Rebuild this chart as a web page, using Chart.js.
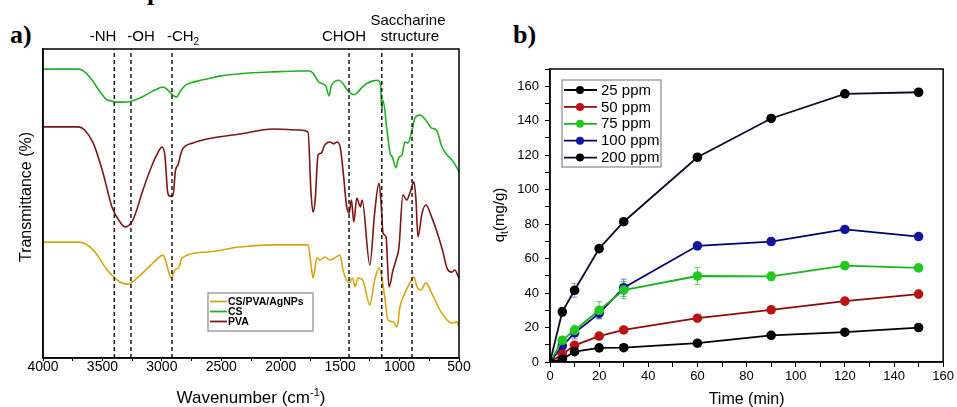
<!DOCTYPE html>
<html>
<head>
<meta charset="utf-8">
<script src="https://cdn.jsdelivr.net/npm/chart.js@4.4.0/dist/chart.umd.min.js"></script>
<style>
  body { margin: 0; background: #fff; width: 957px; height: 407px; overflow: hidden; position: relative; }
  .panel { position: absolute; top: 0; height: 407px; }
  #pa { left: 0; width: 478px; }
  #pb { left: 478px; width: 479px; }
  .tag { position: absolute; font: bold 26px "Liberation Serif", "Times New Roman", serif; line-height: 26px; color: #000; }
</style>
</head>
<body>
<div class="tag" style="left:147px; top:-21px;">p</div>
<div class="tag" style="left:10px; top:22px;">a)</div>
<div class="tag" style="left:513px; top:22px;">b)</div>
<div class="panel" id="pa"><canvas id="ftir" width="478" height="407"></canvas></div>
<div class="panel" id="pb"><canvas id="kinetica" width="479" height="407"></canvas></div>
<script>
const SANS = "'Liberation Sans', Arial, sans-serif";
Chart.defaults.font.family = SANS;
Chart.defaults.color = '#000';

// ---- panel a: FTIR spectra (transmittance, arbitrary offset units 0-100) ----
const wnCS = [4000,3700,3660,3600,3530,3460,3420,3400,3330,3250,3150,3060,2990,2950,2900,2873,2850,2800,2700,2620,2500,2340,2065,1840,1760,1728,1680,1620,1594,1575,1540,1510,1480,1440,1417,1380,1350,1320,1280,1230,1182,1160,1150,1140,1106,1080,1060,1030,1010,980,955,929,895,870,828,780,730,690,643,600,559,517,500];
const tCS = [93.5,93.5,92.9,90.6,86.7,83.5,83.2,82.8,82.8,83.2,84.8,86.7,87.7,86.7,84.8,84.5,86.1,88.3,89.6,90.3,91.3,92.0,92.6,92.9,92.9,92.2,89.3,88.0,84.8,88.0,89.6,89.9,89.0,86.7,85.8,85.2,86.1,87.4,88.7,89.6,89.9,88.3,80.3,83.5,73.8,66.3,65.0,61.5,64.7,65.7,69.9,69.6,73.8,77.7,78.6,77.0,74.4,73.8,68.3,65.7,64.1,61.5,60.2];

const wnPVA = [4000,3700,3650,3578,3495,3420,3352,3310,3243,3159,3075,3030,3000,2975,2950,2932,2907,2885,2864,2830,2738,2620,2343,2065,1840,1770,1745,1728,1710,1686,1660,1630,1585,1555,1527,1500,1476,1445,1425,1405,1385,1360,1330,1315,1250,1210,1173,1150,1140,1114,1089,1055,1030,1005,972,940,913,879,862,845,811,778,730,677,635,601,560,534,505,500];
const tPVA = [74.8,74.8,73.8,69.6,59.9,48.9,44.0,42.4,44.7,54.4,63.1,66.7,68.3,65.7,53.4,52.4,52.4,60.8,62.5,67.3,69.6,70.9,72.5,74.1,73.8,73.1,53.4,47.2,51.1,65.7,66.3,68.9,69.9,69.3,69.9,68.3,60.8,48.9,46.9,51.1,44.0,51.8,48.9,51.1,30.1,46.9,56.6,46.9,40.5,39.2,23.0,28.5,31.7,35.9,52.8,51.1,53.4,57.0,51.1,39.2,46.9,49.5,45.6,39.8,34.3,29.1,27.8,28.5,26.2,25.9];

const wnMix = [4000,3700,3578,3460,3352,3285,3200,3075,2990,2965,2923,2890,2856,2830,2620,2343,2065,1770,1745,1728,1695,1670,1630,1585,1545,1501,1476,1425,1395,1375,1350,1310,1250,1210,1173,1150,1125,1098,1055,1022,997,955,913,879,853,820,778,730,660,601,559,517,500];
const tMix = [37.5,37.5,35.0,28.5,24.6,23.9,26.2,30.7,33.3,31.1,25.9,28.5,29.4,32.4,34.3,35.9,36.6,36.6,30.1,25.9,32.4,31.7,32.7,31.7,32.4,33.3,28.5,24.3,25.9,23.0,25.9,25.2,17.2,25.2,29.1,26.2,19.7,12.3,11.7,10.0,16.5,21.0,24.3,26.2,23.0,22.0,24.3,21.0,15.5,12.3,11.3,11.7,10.0];

const bandLines = [3400, 3260, 2915, 1425, 1150, 895];
const spectraNames = ['CS/PVA/AgNPs', 'CS', 'PVA'];

// ---- panel b: adsorption kinetics ----
const timeMin = [0, 5, 10, 20, 30, 60, 90, 120, 150];
const concLabels = ['25 ppm', '50 ppm', '75 ppm', '100 ppm', '200 ppm'];
const q25  = [0, 1.5, 6.0, 8.2, 8.3, 10.9, 15.5, 17.3, 20.0];
const q50  = [0, 4.5, 9.7, 15.0, 18.6, 25.4, 30.3, 35.3, 39.4];
const q75  = [0, 12.6, 18.4, 30.0, 41.7, 49.9, 49.7, 55.9, 54.6];
const q100 = [0, 9.3, 16.9, 28.2, 43.1, 67.4, 69.9, 76.9, 72.8];
const q200 = [0, 29.1, 41.6, 65.8, 81.4, 118.8, 141.3, 155.6, 156.5];
const e25  = [0, 0.5, 0.6, 0.6, 0.6, 0.8, 0.6, 0.6, 0.6];
const e50  = [0, 0.6, 0.8, 0.8, 0.8, 0.8, 0.8, 0.8, 0.8];
const e75  = [0, 1.5, 3.0, 5.0, 5.0, 5.0, 2.5, 2.0, 1.5];
const e100 = [0, 1.5, 3.5, 3.0, 5.0, 1.5, 2.0, 1.5, 1.0];
const e200 = [0, 2.5, 4.0, 1.5, 1.5, 1.0, 1.0, 1.0, 1.0];

const toXY = (xs, ys) => xs.map((x, i) => ({ x, y: ys[i] }));

const richText = (ctx, parts, x, y, angle) => {
  ctx.save();
  ctx.translate(x, y);
  ctx.rotate(angle);
  ctx.fillStyle = '#000';
  ctx.textBaseline = 'alphabetic';
  ctx.textAlign = 'left';
  let total = 0;
  parts.forEach(p => {
    ctx.font = `${p.weight || ''} ${p.size}px ${SANS}`;
    p.w = ctx.measureText(p.t).width;
    total += p.w;
  });
  let cx = -total / 2;
  parts.forEach(p => {
    ctx.font = `${p.weight || ''} ${p.size}px ${SANS}`;
    ctx.fillText(p.t, cx, p.dy || 0);
    cx += p.w;
  });
  ctx.restore();
};

const framePlugin = {
  id: 'frame',
  afterDraw(chart) {
    const { ctx, chartArea: a } = chart;
    ctx.save();
    ctx.strokeStyle = '#000';
    ctx.lineWidth = 1.5;
    ctx.strokeRect(a.left, a.top, a.right - a.left, a.bottom - a.top);
    ctx.restore();
  }
};

const ftirDecor = {
  id: 'ftirDecor',
  afterDraw(chart) {
    const { ctx, chartArea: a } = chart;
    // band annotations
    richText(ctx, [{ t: '-NH', size: 15 }], 103, 41, 0);
    richText(ctx, [{ t: '-OH', size: 15 }], 141, 41, 0);
    richText(ctx, [{ t: '-CH', size: 15 }, { t: '2', size: 10, dy: 4 }], 183, 41, 0);
    richText(ctx, [{ t: 'CHOH', size: 15 }], 344, 41, 0);
    richText(ctx, [{ t: 'Saccharine', size: 15 }], 408, 25, 0);
    richText(ctx, [{ t: 'structure', size: 15 }], 410, 41, 0);
    // axis titles
    richText(ctx, [{ t: 'Transmittance (%)', size: 16 }], 31, 197, -Math.PI / 2);
    richText(ctx, [{ t: 'Wavenumber (cm', size: 17 }, { t: '-1', size: 11, dy: -7 }, { t: ')', size: 17 }], (a.left + a.right) / 2, 403, 0);
    // legend
    const bx = 208, by = 293, bw = 105, bh = 38;
    ctx.save();
    ctx.fillStyle = '#fff';
    ctx.fillRect(bx, by, bw, bh);
    ctx.strokeStyle = '#888';
    ctx.lineWidth = 1.2;
    ctx.strokeRect(bx, by, bw, bh);
    ctx.font = `bold 10.5px ${SANS}`;
    ctx.textBaseline = 'middle';
    spectraNames.forEach((name, i) => {
      const ds = chart.data.datasets.find(d => d.label === name);
      const yy = by + 8.5 + i * 10;
      ctx.strokeStyle = ds.borderColor;
      ctx.lineWidth = 1.8;
      ctx.beginPath();
      ctx.moveTo(bx + 2, yy);
      ctx.lineTo(bx + 19, yy);
      ctx.stroke();
      ctx.fillStyle = '#000';
      ctx.fillText(name, bx + 20, yy + 0.5);
    });
    ctx.restore();
  }
};

const specStyle = (label, data, color) => ({
  label, data, borderColor: color, borderWidth: 1.6,
  pointRadius: 0, cubicInterpolationMode: 'monotone', fill: false
});

new Chart(document.getElementById('ftir'), {
  type: 'line',
  data: {
    datasets: [
      ...bandLines.map(w => ({
        label: 'band ' + w, data: [{ x: w, y: 0 }, { x: w, y: 100 }],
        borderColor: '#1a1a1a', borderWidth: 1.5, borderDash: [4, 3], pointRadius: 0
      })),
      specStyle('CS/PVA/AgNPs', toXY(wnMix, tMix), '#d6a512'),
      specStyle('CS', toXY(wnCS, tCS), '#20b020'),
      specStyle('PVA', toXY(wnPVA, tPVA), '#7c1616')
    ]
  },
  options: {
    responsive: false,
    animation: false,
    layout: { padding: { top: 49, right: 19, left: 0, bottom: 0 } },
    plugins: { legend: { display: false }, tooltip: { enabled: false } },
    scales: {
      x: {
        type: 'linear', reverse: true, min: 500, max: 4000,
        afterFit: s => { s.height = 49; },
        border: { color: '#000', width: 1.5 },
        grid: { display: true, drawOnChartArea: false, tickLength: 3, color: '#000' },
        ticks: {
          stepSize: 250, autoSkip: false, maxRotation: 0, padding: -1,
          font: { size: 14, lineHeight: 1 },
          callback: v => (v % 500 === 0 ? v : '')
        }
      },
      y: {
        min: 0, max: 100,
        afterFit: s => { s.width = 43; },
        border: { color: '#000', width: 1.5 },
        grid: { display: false },
        ticks: { display: false }
      }
    }
  },
  plugins: [framePlugin, ftirDecor]
});

// ---- panel b ----
const errorBars = {
  id: 'errorBars',
  beforeDatasetsDraw(chart) {
    const { ctx, scales: { x, y } } = chart;
    ctx.save();
    chart.data.datasets.forEach(ds => {
      ctx.strokeStyle = ds.errColor;
      ctx.lineWidth = 1;
      ds.data.forEach((p, i) => {
        const e = ds.err[i];
        if (!e) return;
        const px = x.getPixelForValue(p.x);
        const y1 = y.getPixelForValue(p.y - e), y2 = y.getPixelForValue(p.y + e);
        ctx.beginPath();
        ctx.moveTo(px, y1); ctx.lineTo(px, y2);
        ctx.moveTo(px - 3, y1); ctx.lineTo(px + 3, y1);
        ctx.moveTo(px - 3, y2); ctx.lineTo(px + 3, y2);
        ctx.stroke();
      });
    });
    ctx.restore();
  }
};

const kinDecor = {
  id: 'kinDecor',
  afterDraw(chart) {
    const { ctx, chartArea: a } = chart;
    richText(ctx, [{ t: 'q', size: 15 }, { t: 't', size: 10, dy: 4 }, { t: '(mg/g)', size: 15 }], 26, 215, -Math.PI / 2);
    richText(ctx, [{ t: 'Time (min)', size: 16 }], (a.left + a.right) / 2, 404, 0);
    // legend
    const bx = 84, by = 80, bw = 99, bh = 87;
    ctx.save();
    ctx.fillStyle = '#fff';
    ctx.fillRect(bx, by, bw, bh);
    ctx.strokeStyle = '#888';
    ctx.lineWidth = 1.2;
    ctx.strokeRect(bx, by, bw, bh);
    ctx.font = `15px ${SANS}`;
    ctx.textBaseline = 'middle';
    chart.data.datasets.forEach((ds, i) => {
      const yy = by + 10 + i * 16.9;
      ctx.strokeStyle = ds.borderColor;
      ctx.lineWidth = 1.8;
      ctx.beginPath();
      ctx.moveTo(bx + 2, yy); ctx.lineTo(bx + 35, yy);
      ctx.stroke();
      ctx.fillStyle = ds.pointBackgroundColor;
      ctx.beginPath();
      ctx.arc(bx + 18, yy, 4, 0, Math.PI * 2);
      ctx.fill();
      ctx.fillStyle = '#000';
      ctx.fillText(ds.label, bx + 39, yy + 0.5);
    });
    ctx.restore();
  }
};

const kinSet = (label, ys, errs, line, dot, errColor) => ({
  label, data: toXY(timeMin, ys), err: errs, errColor,
  borderColor: line, borderWidth: 1.8,
  pointBackgroundColor: dot, pointBorderColor: dot, pointRadius: 4.8, pointBorderWidth: 0
});

new Chart(document.getElementById('kinetica'), {
  type: 'line',
  data: {
    datasets: [
      kinSet(concLabels[0], q25, e25, '#000000', '#000000', 'rgba(60,60,60,0.6)'),
      kinSet(concLabels[1], q50, e50, '#8e0a0a', '#b81414', 'rgba(200,60,60,0.6)'),
      kinSet(concLabels[2], q75, e75, '#18b418', '#20c820', 'rgba(40,190,40,0.75)'),
      kinSet(concLabels[3], q100, e100, '#000070', '#1414a0', 'rgba(80,80,210,0.75)'),
      kinSet(concLabels[4], q200, e200, '#0c0c26', '#000000', 'rgba(100,100,190,0.7)')
    ]
  },
  options: {
    responsive: false,
    animation: false,
    layout: { padding: { top: 69, right: 13, left: 0, bottom: 0 } },
    plugins: { legend: { display: false }, tooltip: { enabled: false } },
    scales: {
      x: {
        type: 'linear', min: 0, max: 160,
        afterFit: s => { s.height = 45; },
        border: { color: '#000', width: 1.5 },
        grid: { display: true, drawOnChartArea: false, tickLength: 5, color: '#000' },
        ticks: {
          stepSize: 10, autoSkip: false, maxRotation: 0, padding: 3,
          font: { size: 13, lineHeight: 1 },
          callback: v => (v % 20 === 0 ? v : '')
        }
      },
      y: {
        min: 0, max: 170,
        afterFit: s => { s.width = 72; },
        border: { color: '#000', width: 1.5 },
        grid: { display: true, drawOnChartArea: false, tickLength: 5, color: '#000' },
        ticks: {
          stepSize: 10, autoSkip: false, padding: 6,
          font: { size: 13 },
          callback: v => (v % 20 === 0 && v <= 160 ? v : '')
        }
      }
    }
  },
  plugins: [framePlugin, errorBars, kinDecor]
});
</script>
</body>
</html>
